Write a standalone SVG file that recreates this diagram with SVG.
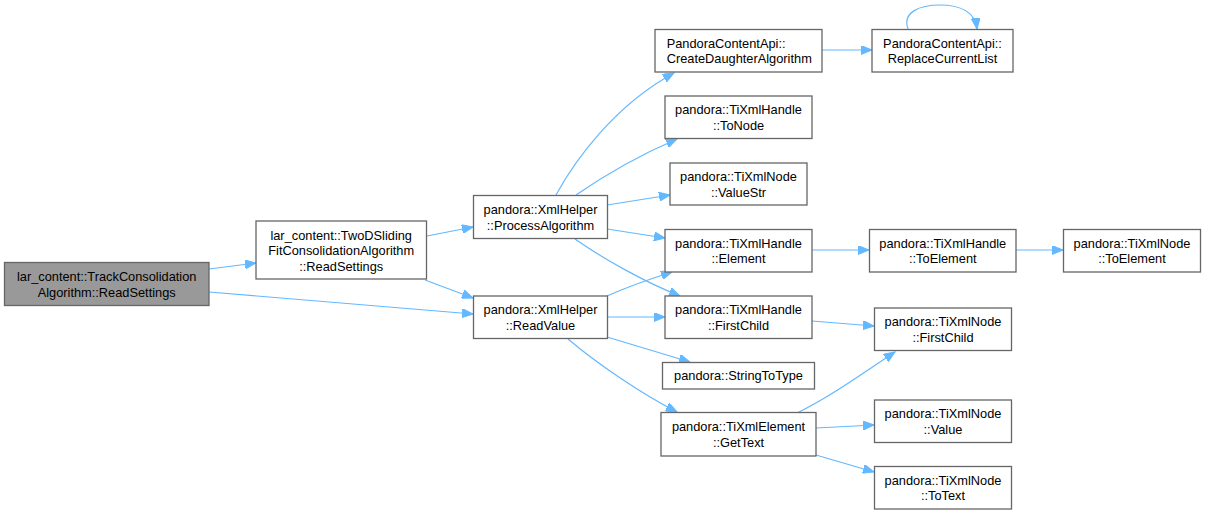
<svg xmlns="http://www.w3.org/2000/svg" width="1206" height="515" viewBox="0 0 1206 515">
<style>
.n rect{fill:#ffffff;stroke:#666666;stroke-width:1.3}
.n.main rect{fill:#999999}
.n text{font-family:"Liberation Sans",Arial,sans-serif;font-size:12.8px;fill:#000000;text-anchor:middle}
.e path{fill:none;stroke:#63b8ff;stroke-width:1.2;marker-end:url(#arr)}
</style>
<defs>
<marker id="arr" markerUnits="userSpaceOnUse" markerWidth="12" markerHeight="9" refX="11" refY="4.5" orient="auto">
<path d="M0,0 L11,4.5 L0,9 z" fill="#63b8ff" stroke="#63b8ff" stroke-width="1"/>
</marker>
</defs>
<rect width="1206" height="515" fill="#ffffff"/>
<g id="edges" class="e">
<path d="M209,269 L256,263"/>
<path d="M209,292 L473,314"/>
<path d="M427,236 L473,227"/>
<path d="M425,280 L473,298"/>
<path d="M556,195 C575,160 615,105 674,73"/>
<path d="M576,195 C605,175 640,155 677,139"/>
<path d="M607,205 L670,195"/>
<path d="M607,229 L665,238"/>
<path d="M575,239 C605,260 645,282 680,296"/>
<path d="M607,296 C625,288 650,279 672,272"/>
<path d="M607,317 L665,317"/>
<path d="M607,337 L690,362"/>
<path d="M568,339 C595,362 640,393 677,412"/>
<path d="M822,50 L872,50"/>
<path d="M908,29 C902,12 920,5 940,5 C960,5 975,12 977,29"/>
<path d="M799,250 L869,250"/>
<path d="M1016,250 L1063,250"/>
<path d="M812,321 L874,326"/>
<path d="M797,413 C830,397 860,375 895,352"/>
<path d="M816,428 L874,425"/>
<path d="M816,455 L874,472"/>
</g>
<g id="node_track" class="n main">
<rect x="4.5" y="262.5" width="204.5" height="43"/>
<text x="106.7" y="281">lar_content::TrackConsolidation</text>
<text x="106.7" y="296.5">Algorithm::ReadSettings</text>
</g>
<g id="node_twod" class="n">
<rect x="256" y="221" width="170.5" height="58"/>
<text x="341.2" y="239.5">lar_content::TwoDSliding</text>
<text x="341.2" y="255">FitConsolidationAlgorithm</text>
<text x="341.2" y="270.5">::ReadSettings</text>
</g>
<g id="node_process" class="n">
<rect x="473.5" y="195.5" width="134" height="43"/>
<text x="540.5" y="214">pandora::XmlHelper</text>
<text x="540.5" y="229.5">::ProcessAlgorithm</text>
</g>
<g id="node_readvalue" class="n">
<rect x="473.5" y="296" width="134" height="42.5"/>
<text x="540.5" y="314.3">pandora::XmlHelper</text>
<text x="540.5" y="329.8">::ReadValue</text>
</g>
<g id="node_create" class="n">
<rect x="655" y="29.5" width="167" height="42.5"/>
<text x="666.7" y="47.8" style="text-anchor:start">PandoraContentApi::</text>
<text x="666.7" y="63.3" style="text-anchor:start">CreateDaughterAlgorithm</text>
</g>
<g id="node_replace" class="n">
<rect x="872" y="29.5" width="141" height="42.5"/>
<text x="942.5" y="47.8">PandoraContentApi::</text>
<text x="942.5" y="63.3">ReplaceCurrentList</text>
</g>
<g id="node_tonode" class="n">
<rect x="665" y="96" width="147" height="42.5"/>
<text x="738.5" y="114.3">pandora::TiXmlHandle</text>
<text x="738.5" y="129.8">::ToNode</text>
</g>
<g id="node_valuestr" class="n">
<rect x="670" y="163" width="137" height="42"/>
<text x="738.5" y="181">pandora::TiXmlNode</text>
<text x="738.5" y="196.5">::ValueStr</text>
</g>
<g id="node_element" class="n">
<rect x="665" y="229.5" width="147" height="42.5"/>
<text x="738.5" y="247.8">pandora::TiXmlHandle</text>
<text x="738.5" y="263.3">::Element</text>
</g>
<g id="node_htoelement" class="n">
<rect x="869.5" y="229.5" width="146.5" height="42.5"/>
<text x="942.8" y="247.8">pandora::TiXmlHandle</text>
<text x="942.8" y="263.3">::ToElement</text>
</g>
<g id="node_ntoelement" class="n">
<rect x="1063.5" y="229.5" width="137" height="42.5"/>
<text x="1132" y="247.8">pandora::TiXmlNode</text>
<text x="1132" y="263.3">::ToElement</text>
</g>
<g id="node_hfirstchild" class="n">
<rect x="665" y="296" width="147" height="42.5"/>
<text x="738.5" y="314.3">pandora::TiXmlHandle</text>
<text x="738.5" y="329.8">::FirstChild</text>
</g>
<g id="node_nfirstchild" class="n">
<rect x="874.5" y="308" width="137" height="42.5"/>
<text x="943" y="326.3">pandora::TiXmlNode</text>
<text x="943" y="341.8">::FirstChild</text>
</g>
<g id="node_stringtotype" class="n">
<rect x="662.5" y="362.5" width="152" height="26.5"/>
<text x="738.5" y="380">pandora::StringToType</text>
</g>
<g id="node_gettext" class="n">
<rect x="661" y="412.5" width="155" height="43.5"/>
<text x="738.5" y="431">pandora::TiXmlElement</text>
<text x="738.5" y="446.5">::GetText</text>
</g>
<g id="node_value" class="n">
<rect x="874.5" y="400" width="137" height="42.5"/>
<text x="943" y="418.3">pandora::TiXmlNode</text>
<text x="943" y="433.8">::Value</text>
</g>
<g id="node_totext" class="n">
<rect x="874.5" y="466.5" width="137" height="42.5"/>
<text x="943" y="484.8">pandora::TiXmlNode</text>
<text x="943" y="500.3">::ToText</text>
</g>
</svg>
